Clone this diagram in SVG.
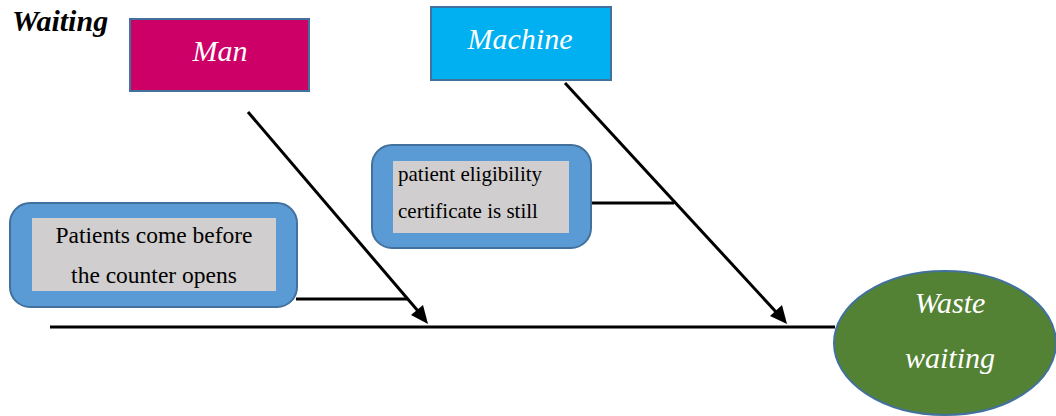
<svg xmlns="http://www.w3.org/2000/svg" width="1056" height="416" viewBox="0 0 1056 416">
  <defs>
    <style>
      text { font-family: 'Liberation Serif', 'Times New Roman', Tinos, 'DejaVu Serif', serif; }
      .cat { stroke: #41719C; stroke-width: 2; }
      .catText { font-style: italic; font-size: 30px; fill: #fff; text-anchor: middle; }
      .cause { fill: #5B9BD5; stroke: #41719C; stroke-width: 2; }
      .causeInner { fill: #D0CECE; }
      .causeText { fill: #000; }
      .bone { stroke: #000; stroke-width: 3; fill: none; }
      .head { fill: #000; }
    </style>
  </defs>
  <rect width="1056" height="416" fill="#fff"/>

  <text x="12" y="31" font-weight="bold" font-style="italic" font-size="30" fill="#000">Waiting</text>

  <!-- spine, ribs with arrowheads, and sub-cause branches -->
  <g id="connectors">
    <line class="bone" x1="50" y1="327" x2="835" y2="327"/>
    <line class="bone" x1="248" y1="112" x2="418" y2="311"/>
    <polygon class="head" points="428,324 411,315 423,305"/>
    <line class="bone" x1="565" y1="83" x2="777" y2="313"/>
    <polygon class="head" points="787,324 770,316 782,305"/>
    <line class="bone" x1="296" y1="299" x2="408" y2="299"/>
    <line class="bone" x1="590" y1="203" x2="674" y2="203"/>
  </g>

  <g id="man">
    <rect class="cat" x="130" y="19" width="179" height="72" fill="#CC0066"/>
    <text class="catText" x="220" y="61">Man</text>
  </g>

  <g id="machine">
    <rect class="cat" x="431" y="7" width="180" height="73" fill="#00B0F0"/>
    <text class="catText" x="520" y="49">Machine</text>
  </g>

  <g id="cause-counter">
    <rect class="cause" x="10" y="203" width="287" height="104" rx="20" ry="20"/>
    <rect class="causeInner" x="32" y="218" width="244" height="73"/>
    <text class="causeText" x="154" y="243" font-size="23.5" text-anchor="middle">Patients come before</text>
    <text class="causeText" x="154" y="283" font-size="23.5" text-anchor="middle">the counter opens</text>
  </g>

  <g id="cause-certificate">
    <rect class="cause" x="372" y="145" width="219" height="103" rx="20" ry="20"/>
    <rect class="causeInner" x="393" y="161" width="176" height="72"/>
    <text class="causeText" x="398" y="181" font-size="21">patient eligibility</text>
    <text class="causeText" x="398" y="218" font-size="21">certificate is still</text>
  </g>

  <g id="effect">
    <ellipse cx="945" cy="343" rx="111" ry="72" fill="#548235" stroke="#41719C" stroke-width="2"/>
    <text class="catText" x="950" y="313">Waste</text>
    <text class="catText" x="950" y="368">waiting</text>
  </g>
</svg>
